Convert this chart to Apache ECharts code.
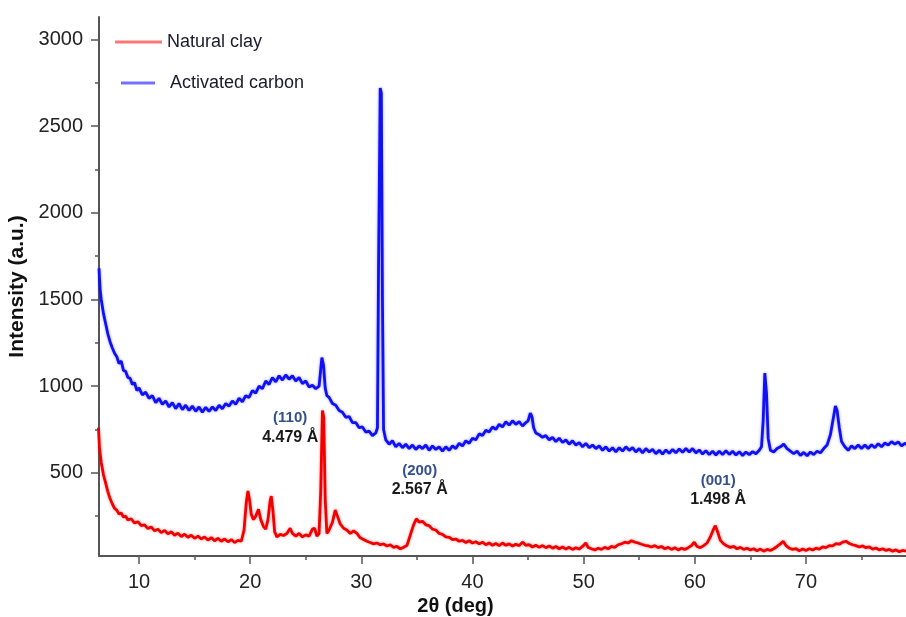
<!DOCTYPE html>
<html>
<head>
<meta charset="utf-8">
<script src="https://cdn.jsdelivr.net/npm/echarts@6/dist/echarts.min.js"></script>
<style>
  html, body { margin: 0; padding: 0; background: #fff; }
  #xrd { width: 906px; height: 617px; }
</style>
</head>
<body>
<div id="xrd"></div>
<script>
// XRD patterns, [2theta, intensity]
var clayData = [
  [6.35,760],[6.45,640],[6.6,560],[6.8,490],[7.0,440],[7.2,390],[7.4,350],[7.6,320],[7.8,295],[8.0,285],
  [8.2,262],[8.4,268],[8.6,245],[8.8,250],[9.0,228],[9.3,235],[9.6,210],[9.9,218],[10.2,195],[10.5,200],
  [10.8,178],[11.1,188],[11.4,165],[11.7,175],[12.0,155],[12.3,168],[12.6,148],[12.9,160],[13.2,140],[13.5,152],
  [13.8,132],[14.1,146],[14.4,128],[14.7,140],[15.0,122],[15.3,135],[15.6,118],[15.9,130],[16.2,112],[16.5,126],
  [16.8,108],[17.1,122],[17.4,105],[17.7,118],[18.0,102],[18.3,115],[18.6,98],[18.9,110],[19.2,105],[19.45,170],
  [19.65,330],[19.8,395],[19.95,340],[20.1,260],[20.3,230],[20.5,250],[20.75,290],[20.95,230],[21.2,190],[21.4,175],
  [21.6,230],[21.8,340],[21.9,365],[22.05,280],[22.2,160],[22.4,130],[22.7,145],[23.0,138],[23.3,150],[23.6,180],
  [23.8,150],[24.1,135],[24.4,150],[24.7,130],[25.0,142],[25.3,135],[25.6,175],[25.8,180],[26.0,135],[26.2,150],
  [26.35,400],[26.5,860],[26.62,820],[26.75,350],[26.9,150],[27.1,170],[27.4,215],[27.65,285],[27.85,250],[28.1,205],
  [28.4,180],[28.7,170],[29.0,150],[29.3,165],[29.6,150],[29.9,125],[30.2,115],[30.5,105],[30.8,98],[31.1,90],
  [31.4,95],[31.7,85],[32.0,90],[32.3,78],[32.6,85],[32.9,70],[33.2,75],[33.5,62],[33.8,70],[34.1,80],
  [34.4,140],[34.7,200],[34.95,235],[35.2,215],[35.5,220],[35.8,200],[36.1,195],[36.4,175],[36.7,170],[37.0,150],
  [37.3,145],[37.6,130],[37.9,128],[38.2,115],[38.5,118],[38.8,105],[39.1,110],[39.4,98],[39.7,108],[40.0,95],
  [40.3,102],[40.6,90],[40.9,100],[41.2,85],[41.5,95],[41.8,82],[42.1,92],[42.4,80],[42.7,95],[43.0,82],
  [43.3,90],[43.6,78],[43.9,88],[44.2,80],[44.5,100],[44.8,82],[45.1,85],[45.4,72],[45.7,82],[46.0,70],
  [46.3,80],[46.6,68],[46.9,78],[47.2,65],[47.5,75],[47.8,62],[48.1,72],[48.4,60],[48.7,70],[49.0,58],
  [49.3,68],[49.6,60],[49.9,75],[50.2,95],[50.4,70],[50.7,62],[51.0,55],[51.3,65],[51.6,58],[51.9,70],
  [52.2,62],[52.5,75],[52.8,70],[53.1,85],[53.4,90],[53.7,100],[54.0,95],[54.3,108],[54.6,100],[54.9,95],
  [55.2,88],[55.5,82],[55.8,78],[56.1,72],[56.4,80],[56.7,68],[57.0,75],[57.3,62],[57.6,70],[57.9,58],
  [58.2,68],[58.5,55],[58.8,65],[59.1,58],[59.4,68],[59.7,80],[59.95,100],[60.2,75],[60.5,68],[60.8,80],
  [61.1,95],[61.4,130],[61.65,170],[61.85,195],[62.05,160],[62.3,110],[62.6,90],[62.9,78],[63.2,70],[63.5,75],
  [63.8,62],[64.1,70],[64.4,58],[64.7,65],[65.0,55],[65.3,62],[65.6,50],[65.9,60],[66.2,48],[66.5,58],
  [66.8,52],[67.1,62],[67.4,75],[67.7,90],[67.95,105],[68.2,80],[68.5,65],[68.8,58],[69.1,62],[69.4,50],
  [69.7,60],[70.0,52],[70.3,62],[70.6,55],[70.9,65],[71.2,60],[71.5,72],[71.8,68],[72.1,80],[72.4,78],
  [72.7,92],[73.0,88],[73.3,100],[73.6,105],[73.9,92],[74.2,85],[74.5,80],[74.8,72],[75.1,78],[75.4,68],
  [75.7,72],[76.0,60],[76.3,66],[76.6,55],[76.9,62],[77.2,52],[77.5,58],[77.8,48],[78.1,55],[78.4,45],
  [78.7,52],[79.0,48]
];
var carbonData = [
  [6.4,1680],[6.5,1560],[6.6,1500],[6.8,1420],[7.0,1360],[7.2,1300],[7.4,1255],[7.6,1220],[7.8,1190],[8.0,1170],
  [8.2,1130],[8.4,1145],[8.6,1090],[8.8,1085],[9.0,1050],[9.2,1045],[9.4,1010],[9.6,1020],[9.8,975],[10.0,990],
  [10.3,950],[10.6,965],[10.9,930],[11.2,945],[11.5,905],[11.8,930],[12.1,895],[12.4,915],[12.7,880],[13.0,905],
  [13.3,870],[13.6,900],[13.9,865],[14.2,890],[14.5,860],[14.8,885],[15.1,855],[15.4,880],[15.7,850],[16.0,878],
  [16.3,855],[16.6,880],[16.9,860],[17.2,890],[17.5,870],[17.8,900],[18.1,885],[18.4,915],[18.7,895],[19.0,930],
  [19.3,910],[19.6,945],[19.9,935],[20.2,975],[20.5,960],[20.8,1000],[21.1,985],[21.4,1030],[21.7,1010],[22.0,1050],
  [22.3,1025],[22.6,1060],[22.9,1035],[23.2,1065],[23.5,1040],[23.8,1060],[24.1,1030],[24.4,1050],[24.7,1015],[25.0,1030],
  [25.3,995],[25.6,1005],[25.9,985],[26.2,1000],[26.35,1100],[26.45,1165],[26.6,1120],[26.75,990],[26.9,945],[27.1,935],
  [27.4,900],[27.7,890],[28.0,860],[28.3,850],[28.6,820],[28.9,825],[29.2,790],[29.5,790],[29.8,760],[30.1,765],
  [30.4,735],[30.7,740],[31.0,715],[31.3,730],[31.45,760],[31.55,1700],[31.7,2720],[31.8,2690],[31.9,1500],[32.0,750],
  [32.2,690],[32.5,665],[32.8,685],[33.1,650],[33.4,670],[33.7,645],[34.0,665],[34.3,640],[34.6,660],[34.9,635],
  [35.2,655],[35.5,640],[35.8,660],[36.1,630],[36.4,655],[36.7,635],[37.0,650],[37.3,625],[37.6,650],[37.9,630],
  [38.2,655],[38.5,640],[38.8,670],[39.1,655],[39.4,685],[39.7,670],[40.0,700],[40.3,690],[40.6,725],[40.9,715],
  [41.2,745],[41.5,735],[41.8,765],[42.1,750],[42.4,780],[42.7,765],[43.0,795],[43.3,775],[43.6,800],[43.9,780],
  [44.2,795],[44.5,770],[44.8,790],[45.0,800],[45.2,845],[45.35,825],[45.5,760],[45.7,730],[46.0,720],[46.3,705],
  [46.6,715],[46.9,690],[47.2,705],[47.5,680],[47.8,700],[48.1,675],[48.4,690],[48.7,665],[49.0,685],[49.3,660],
  [49.6,675],[49.9,650],[50.2,670],[50.5,645],[50.8,660],[51.1,640],[51.4,655],[51.7,630],[52.0,650],[52.3,625],
  [52.6,645],[52.9,620],[53.2,645],[53.5,625],[53.8,650],[54.1,630],[54.4,645],[54.7,620],[55.0,640],[55.3,615],
  [55.6,640],[55.9,620],[56.2,635],[56.5,610],[56.8,630],[57.1,608],[57.4,632],[57.7,612],[58.0,635],[58.3,615],
  [58.6,638],[58.9,618],[59.2,640],[59.5,620],[59.8,640],[60.1,615],[60.4,632],[60.7,608],[61.0,628],[61.3,605],
  [61.6,625],[61.9,603],[62.2,625],[62.5,605],[62.8,628],[63.1,606],[63.4,625],[63.7,603],[64.0,622],[64.3,600],
  [64.6,620],[64.9,605],[65.2,622],[65.5,610],[65.8,630],[66.0,650],[66.15,800],[66.3,1075],[66.45,960],[66.6,700],
  [66.8,630],[67.1,620],[67.4,640],[67.7,650],[68.0,665],[68.3,640],[68.6,625],[68.9,610],[69.2,625],[69.5,600],
  [69.8,618],[70.1,598],[70.4,620],[70.7,605],[71.0,625],[71.3,615],[71.6,640],[71.9,660],[72.2,720],[72.5,830],
  [72.65,885],[72.8,860],[73.0,760],[73.2,680],[73.5,650],[73.8,630],[74.1,655],[74.4,640],[74.7,660],[75.0,640],
  [75.3,660],[75.6,640],[75.9,662],[76.2,645],[76.5,668],[76.8,650],[77.1,672],[77.4,660],[77.7,680],[78.0,665],
  [78.3,678],[78.6,655],[78.9,670],[79.2,660]
];
var seriesNames = ['Natural clay', 'Activated carbon'];
var xTicks = [10, 20, 30, 40, 50, 60, 70];
var xMinorTicks = [15, 25, 35, 45, 55, 65, 75];
var yTicks = [500, 1000, 1500, 2000, 2500, 3000];
var yMinorTicks = [250, 750, 1250, 1750, 2250, 2750];
// peak annotations: [2theta, intensity, hkl, d-spacing]
var peakNotes = [
  [23.6, 760, '(110)', '4.479 Å'],
  [35.25, 458, '(200)', '2.567 Å'],
  [62.1, 400, '(001)', '1.498 Å']
];

(function(){
    var dom = document.getElementById('xrd');
    var myChart = echarts.init(dom);
    var axisColor = '#555';
    var font = 'Liberation Sans, Arial, sans-serif';

    var xRange = { min: 6.4, max: 79 };
    var yRange = { min: 20, max: 3130 };

    var noteData = peakNotes.map(function (p) {
      return { coord: [p[0], p[1]], value: p[2], hkl: p[2], d: p[3] };
    });
    var plainNumber = function (v) { return String(v); };

    option = {
      animation: false,
      backgroundColor: '#fff',
      grid: { left: 99, right: 0, top: 17, bottom: 61, containLabel: false, outerBoundsMode: 'none' },
      legend: [
        {
          data: [seriesNames[0]],
          left: 110, top: 28,
          itemWidth: 47, itemHeight: 3,
          textStyle: { fontFamily: font, fontSize: 18, color: '#1a1a2a' },
          icon: 'rect'
        },
        {
          data: [seriesNames[1]],
          left: 116, top: 69,
          itemWidth: 34, itemHeight: 3,
          formatter: '  {name}',
          textStyle: { fontFamily: font, fontSize: 18, color: '#1a1a2a' },
          icon: 'rect'
        }
      ],
      xAxis: [
        {
          type: 'value',
          min: xRange.min, max: xRange.max,
          name: '2θ (deg)',
          nameLocation: 'middle',
          nameGap: 33,
          nameTextStyle: { fontFamily: font, fontSize: 20, fontWeight: 'bold', color: '#111', padding: [0, 94, 0, 0] },
          axisLine: { show: true, onZero: false, lineStyle: { color: axisColor, width: 2 } },
          axisTick: { show: true, length: 8, customValues: xTicks, lineStyle: { color: axisColor, width: 1.5 } },
          axisLabel: { customValues: xTicks, margin: 16, fontFamily: font, fontSize: 20, color: '#222', formatter: plainNumber },
          splitLine: { show: false }
        },
        {
          type: 'value',
          position: 'bottom',
          min: xRange.min, max: xRange.max,
          axisLine: { show: false },
          axisTick: { show: true, length: 4, customValues: xMinorTicks, lineStyle: { color: axisColor, width: 1.5 } },
          axisLabel: { show: false },
          splitLine: { show: false }
        }
      ],
      yAxis: [
        {
          type: 'value',
          min: yRange.min, max: yRange.max,
          name: 'Intensity (a.u.)',
          nameLocation: 'middle',
          nameGap: 67,
          nameTextStyle: { fontFamily: font, fontSize: 21, fontWeight: 'bold', color: '#111' },
          axisLine: { show: true, onZero: false, lineStyle: { color: axisColor, width: 2 } },
          axisTick: { show: true, length: 8, customValues: yTicks, lineStyle: { color: axisColor, width: 1.5 } },
          axisLabel: { customValues: yTicks, margin: 16, fontFamily: font, fontSize: 20, color: '#222', formatter: plainNumber },
          splitLine: { show: false }
        },
        {
          type: 'value',
          position: 'left',
          min: yRange.min, max: yRange.max,
          axisLine: { show: false },
          axisTick: { show: true, length: 4, customValues: yMinorTicks, lineStyle: { color: axisColor, width: 1.5 } },
          axisLabel: { show: false },
          splitLine: { show: false }
        }
      ],
      series: [
        {
          name: seriesNames[0],
          type: 'line',
          data: clayData,
          symbol: 'none',
          color: '#ff7878',
          lineStyle: { color: '#f20000', width: 2.8, shadowColor: 'rgba(255,0,0,0.4)', shadowBlur: 3 },
          z: 3,
          markPoint: {
            symbol: 'rect', symbolSize: 1,
            itemStyle: { color: 'rgba(0,0,0,0)' },
            label: {
              show: true,
              position: 'inside',
              formatter: function (p) {
                return '{a|' + p.data.hkl + '}\n{b|' + p.data.d + '}';
              },
              rich: {
                a: { fontFamily: font, fontSize: 15, fontWeight: 'bold', color: '#34508c', lineHeight: 19 },
                b: { fontFamily: font, fontSize: 16, fontWeight: 'bold', color: '#1a1a1a', lineHeight: 19 }
              }
            },
            data: noteData
          }
        },
        {
          name: seriesNames[1],
          type: 'line',
          data: carbonData,
          symbol: 'none',
          color: '#7272ff',
          lineStyle: { color: '#1010f5', width: 2.8, shadowColor: 'rgba(0,0,255,0.4)', shadowBlur: 3 },
          z: 4
        }
      ]
    };
    myChart.setOption(option);
    window.addEventListener('resize', function(){
      myChart.resize();
    });
})();
</script>
</body>
</html>
